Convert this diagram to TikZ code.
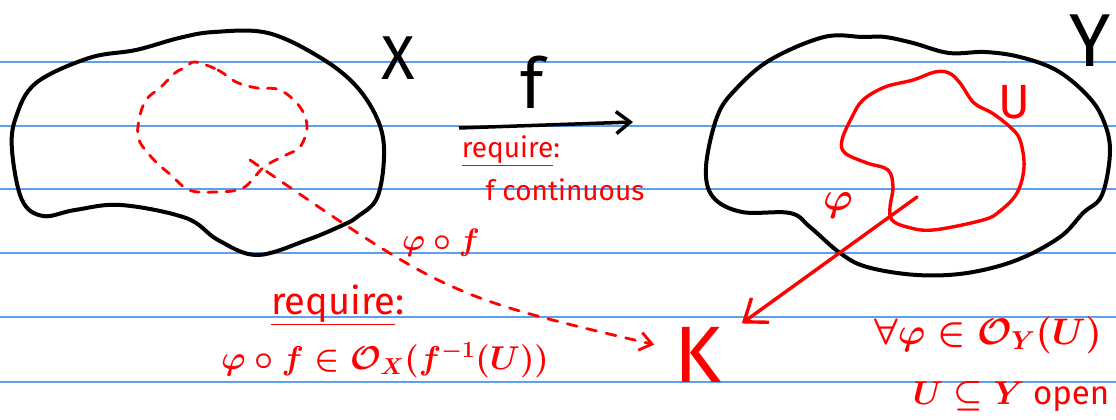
\RequirePackage{fix-cm}
\documentclass[tikz,border=0pt]{standalone}
\usepackage{fontspec}
\setmainfont{Fira Sans}
\usepackage{tikz}
\usetikzlibrary{arrows.meta, positioning}
\definecolor{NoteRed}{RGB}{255, 0, 0}
\definecolor{NoteInk}{RGB}{0, 0, 0}
\definecolor{NoteRule}{RGB}{95, 160, 235}

\tikzset{
  rule/.style={draw=NoteRule, line width=1.6pt},
  blob/.style={draw=NoteInk, line width=4pt, line join=round},
  redink/.style={draw=NoteRed, line width=3.4pt, line cap=round, line join=round},
  dashink/.style={redink, line width=2.8pt, dash pattern=on 9pt off 9pt},
  redtext/.style={text=NoteRed, inner sep=0pt},
  inktext/.style={text=NoteInk, inner sep=0pt}
}
\newcommand{\fsz}[1]{\fontsize{#1}{#1}\selectfont\boldmath}

\begin{document}
\begin{tikzpicture}[x=1pt, y=-1pt]
    \useasboundingbox (0,0) rectangle (1116,420);
    % ruled paper
    \foreach \ry in {62,126,189,253,317,382}
      \draw[rule] (0,\ry) -- (1116,\ry);

    % the two spaces
    \draw[blob] plot[smooth cycle, tension=0.6] coordinates {
      (136,50) (179,38) (214,32) (268,33) (321,58) (357,87) (379,123)
      (384,157) (377,198) (357,217) (343,225) (307,240) (257,255) (218,240)
      (186,218) (121,205) (75,210) (43,216) (22,200) (12,150) (16,117)
      (36,83) (89,58)};
    \draw[blob] plot[smooth cycle, tension=0.6] coordinates {
      (863,37) (824,37) (770,60) (735,90) (717,117) (706,167) (713,197)
      (742,212) (790,213) (810,227) (840,253) (867,267) (917,275) (967,273)
      (1017,260) (1060,237) (1083,213) (1102,195) (1110,150) (1102,117)
      (1085,93) (1056,70) (1020,57) (985,52) (949,53) (913,43) (885,37)};
    \node[inktext, font=\fsz{62}] (X) at (398,58) {X};
    \node[inktext, font=\fsz{75}] (Y) at (1090,41) {Y};

    % open set U and its preimage
    \draw[redink] plot[smooth cycle, tension=0.6] coordinates {
      (935,72) (913,80) (885,87) (863,100) (852,117) (842,140) (845,153)
      (867,163) (888,170) (893,187) (890,207) (892,220) (907,227) (933,230)
      (983,220) (1000,211) (1017,193) (1024,167) (1020,140) (1010,127)
      (992,113) (974,103) (960,83) (949,73)};
    \node[redtext, font=\fsz{48}] (U) at (1014,102) {U};
    \draw[dashink] plot[smooth cycle, tension=0.6] coordinates {
      (195,62) (218,70) (236,82) (257,88) (280,90) (300,107) (307,127)
      (300,147) (286,155) (264,167) (243,188) (214,192) (189,190) (171,175)
      (154,160) (139,140) (139,120) (146,100) (161,87) (175,73) (186,67)};

    % f : X -> Y
    \coordinate (fsrc) at (459,128);
    \coordinate (fdst) at (633,122);
    \draw[blob, line width=3.5pt, -{Straight Barb[length=14pt, width=22pt]}] (fsrc) -- (fdst);
    \node[inktext, font=\fsz{70}] (f) at (532,82) {f};
    \node[redtext, font=\fsz{28}] (req1) at (511,151) {\underline{require}:};
    \node[redtext, font=\fsz{28}] (cont) at (565,190) {f continuous};

    % target K
    \node[redtext, font=\fsz{80}, inner sep=20pt] (K) at (698,355) {K};
    \coordinate (phistart) at (917,197);
    \draw[redink, -{Straight Barb[length=20pt, width=30pt]}] (phistart) -- (K);
    \node[redtext, font=\fsz{40}] (phi) at (838,205) {$\varphi$};
    \coordinate (tailstart) at (250,160);
    \draw[dashink, dash pattern=on 10pt off 10pt, -{Straight Barb[length=12pt, width=18pt]}]
      (tailstart) .. controls (448,296) .. (K);
    \node[redtext, font=\fsz{31}] (phif) at (441,243) {$\varphi\circ f$};

    % conditions
    \node[redtext, font=\fsz{38}] (req2) at (338,305) {\underline{require}:};
    \node[redtext, font=\fsz{33}] (cond) at (385,360) {$\varphi\circ f\in\mathcal{O}_X(f^{-1}(U))$};
    \node[redtext, font=\fsz{37}] (forall) at (988,335) {$\forall\varphi\in\mathcal{O}_Y(U)$};
    \node[redtext, font=\fsz{33}] (open) at (1011,397) {$U\subseteq Y$ open};
\end{tikzpicture}
\end{document}
